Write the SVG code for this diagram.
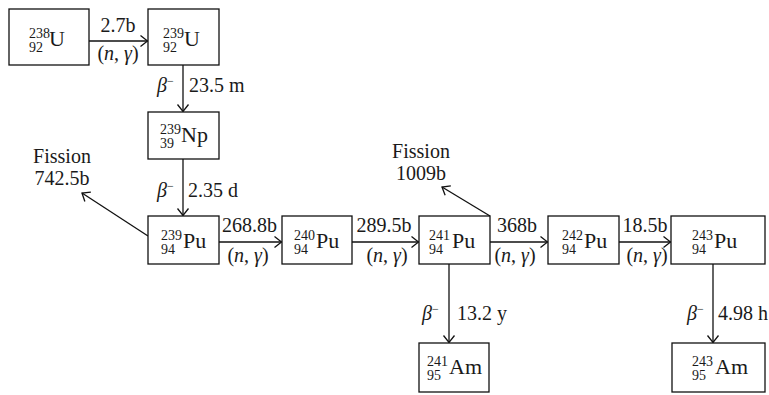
<svg xmlns="http://www.w3.org/2000/svg" width="769" height="395" viewBox="0 0 769 395">
<defs>
<marker id="ah" markerUnits="userSpaceOnUse" markerWidth="14" markerHeight="14" refX="0" refY="0" viewBox="-10 -7 12 14" orient="auto">
<path d="M -7 -5.5 L 0 0 L -7 5.5" fill="none" stroke="#111" stroke-width="1.3"/>
</marker>
<style>
rect{fill:#fff;stroke:#111;stroke-width:1.3}
text{font-family:"Liberation Serif","Times New Roman",serif;fill:#1a1a1a}
.sym{font-size:22px}
.pre{font-size:14px}
.lbl{font-size:20px}
.c{text-anchor:middle}
.i{font-style:italic}
.e line{stroke:#111;stroke-width:1.3;marker-end:url(#ah)}
</style>
</defs>
<g class="e" id="connectors">
<line x1="89" y1="41" x2="147.5" y2="41"/>
<line x1="183" y1="65" x2="183" y2="111.5"/>
<line x1="183" y1="159" x2="183" y2="215.5"/>
<line x1="148" y1="236" x2="82" y2="193"/>
<line x1="219" y1="242" x2="281.5" y2="242"/>
<line x1="352" y1="242" x2="418.5" y2="242"/>
<line x1="490" y1="216" x2="442" y2="187"/>
<line x1="490" y1="242" x2="547.5" y2="242"/>
<line x1="619" y1="242" x2="670.5" y2="242"/>
<line x1="449" y1="264" x2="449" y2="342.5"/>
<line x1="713" y1="264" x2="713" y2="342.5"/>
</g>
<g id="edge-labels">
<text class="lbl c" x="118" y="32">2.7b</text>
<text class="lbl c" x="118" y="60">(<tspan class="i">n</tspan>, <tspan class="i">γ</tspan>)</text>
<text class="lbl" x="157" y="92"><tspan class="i">β</tspan><tspan font-size="12" dy="-7">−</tspan></text>
<text class="lbl" x="189" y="92">23.5 m</text>
<text class="lbl" x="157" y="197"><tspan class="i">β</tspan><tspan font-size="12" dy="-7">−</tspan></text>
<text class="lbl" x="188" y="197">2.35 d</text>
<text class="lbl c" x="62" y="163">Fission</text>
<text class="lbl c" x="62" y="185">742.5b</text>
<text class="lbl c" x="421" y="158">Fission</text>
<text class="lbl c" x="421" y="180">1009b</text>
<text class="lbl c" x="249.5" y="232">268.8b</text>
<text class="lbl c" x="248" y="262">(<tspan class="i">n</tspan>, <tspan class="i">γ</tspan>)</text>
<text class="lbl c" x="384" y="232">289.5b</text>
<text class="lbl c" x="387" y="262">(<tspan class="i">n</tspan>, <tspan class="i">γ</tspan>)</text>
<text class="lbl c" x="517" y="232">368b</text>
<text class="lbl c" x="515" y="262">(<tspan class="i">n</tspan>, <tspan class="i">γ</tspan>)</text>
<text class="lbl c" x="645" y="232">18.5b</text>
<text class="lbl c" x="647" y="262">(<tspan class="i">n</tspan>, <tspan class="i">γ</tspan>)</text>
<text class="lbl" x="422" y="320"><tspan class="i">β</tspan><tspan font-size="12" dy="-7">−</tspan></text>
<text class="lbl" x="457" y="320">13.2 y</text>
<text class="lbl" x="687" y="320"><tspan class="i">β</tspan><tspan font-size="12" dy="-7">−</tspan></text>
<text class="lbl" x="718" y="320">4.98 h</text>
</g>
<g id="U238"><rect x="9" y="9" width="80" height="56"/><text class="pre" x="29" y="38">238</text><text class="pre" x="29" y="52">92</text><text class="sym" x="49" y="46">U</text></g>
<g id="U239"><rect x="148" y="9" width="71" height="56"/><text class="pre" x="163" y="38">239</text><text class="pre" x="163" y="52">92</text><text class="sym" x="184" y="46">U</text></g>
<g id="Np239"><rect x="148" y="112" width="71" height="47"/><text class="pre" x="160" y="134">239</text><text class="pre" x="160" y="148">39</text><text class="sym" x="181" y="142">Np</text></g>
<g id="Pu239"><rect x="148" y="216" width="71" height="48"/><text class="pre" x="161" y="240">239</text><text class="pre" x="161" y="254">94</text><text class="sym" x="183" y="248">Pu</text></g>
<g id="Pu240"><rect x="282" y="216" width="70" height="48"/><text class="pre" x="294" y="240">240</text><text class="pre" x="294" y="254">94</text><text class="sym" x="316" y="248">Pu</text></g>
<g id="Pu241"><rect x="419" y="216" width="71" height="48"/><text class="pre" x="429" y="240">241</text><text class="pre" x="429" y="254">94</text><text class="sym" x="452" y="248">Pu</text></g>
<g id="Pu242"><rect x="548" y="216" width="71" height="48"/><text class="pre" x="562" y="240">242</text><text class="pre" x="562" y="254">94</text><text class="sym" x="584" y="248">Pu</text></g>
<g id="Pu243"><rect x="671" y="216" width="94" height="48"/><text class="pre" x="692" y="240">243</text><text class="pre" x="692" y="254">94</text><text class="sym" x="714" y="248">Pu</text></g>
<g id="Am241"><rect x="419" y="343" width="70" height="49"/><text class="pre" x="427" y="366">241</text><text class="pre" x="427" y="380">95</text><text class="sym" x="449" y="374">Am</text></g>
<g id="Am243"><rect x="672" y="343" width="93" height="49"/><text class="pre" x="692" y="366">243</text><text class="pre" x="692" y="380">95</text><text class="sym" x="715" y="374">Am</text></g>
</svg>
